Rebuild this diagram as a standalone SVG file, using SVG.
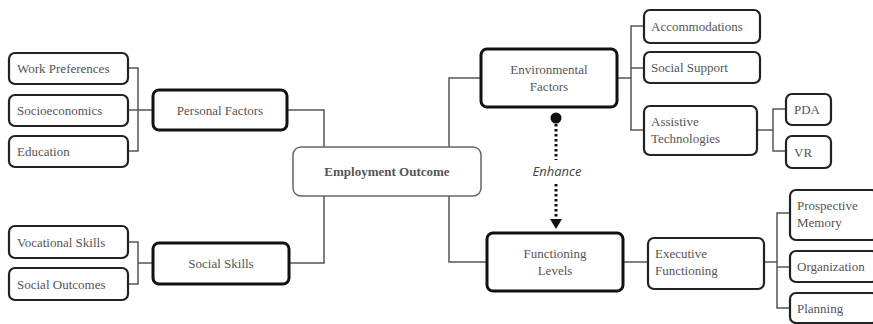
<svg xmlns="http://www.w3.org/2000/svg" width="873" height="324" viewBox="0 0 873 324">
<style>
.leaf{fill:#fff;stroke:#222;stroke-width:2.2}
.hub{fill:#fff;stroke:#111;stroke-width:3}
.root{fill:#fff;stroke:#666;stroke-width:1.5}
.t{font-family:"Liberation Serif",serif;font-size:13px;fill:#555}
.c{text-anchor:middle}
.conn{fill:none;stroke:#555;stroke-width:1.5}
</style>
<defs>
<marker id="arr" viewBox="0 0 10 10" refX="5" refY="9" markerWidth="10" markerHeight="10" markerUnits="userSpaceOnUse" orient="auto-start-reverse">
<path d="M0,0 L10,0 L5,10 Z" fill="#111" transform="rotate(-90 5 5)"/>
</marker>
</defs>
<g id="connectors">
<path class="conn" d="M128,68 H138 V151 H128 M128,110 H153"/>
<path class="conn" d="M287,110 H324 V147"/>
<path class="conn" d="M128,242 H138 V284 H128 M138,263 H153"/>
<path class="conn" d="M289,263 H324 V196"/>
<path class="conn" d="M449,147 V78 H481"/>
<path class="conn" d="M449,196 V262 H487"/>
<path class="conn" d="M617,78 H631 M644,26 H631 V130 H644 M631,68 H644"/>
<path class="conn" d="M757,130 H773 M786,109 H773 V151 H786"/>
<path class="conn" d="M623,262 H648"/>
<path class="conn" d="M764,262 H777 M790,213 H777 V308 H790 M777,267 H790"/>
<g id="enhance">
<circle cx="556" cy="118" r="5.5" fill="#111"/>
<line x1="556" y1="124" x2="556" y2="160" stroke="#111" stroke-width="3" stroke-dasharray="2.5,2.5"/>
<line x1="556" y1="184" x2="556" y2="220" stroke="#111" stroke-width="3" stroke-dasharray="2.5,2.5"/>
<path d="M550,219 L562,219 L556,229 Z" fill="#111"/>
<text x="557" y="176" text-anchor="middle" font-family="'Open Sans',sans-serif" font-style="italic" font-size="13" fill="#444">Enhance</text>
</g>
</g>
<g id="work-preferences"><rect class="leaf" x="9" y="53" width="119" height="31" rx="6"/><text class="t" x="17" y="73">Work Preferences</text></g>
<g id="socioeconomics"><rect class="leaf" x="9" y="95" width="119" height="31" rx="6"/><text class="t" x="17" y="115">Socioeconomics</text></g>
<g id="education"><rect class="leaf" x="9" y="136" width="119" height="31" rx="6"/><text class="t" x="17" y="156">Education</text></g>
<g id="personal-factors"><rect class="hub" x="153" y="90" width="134" height="40" rx="6"/><text class="t c" x="220" y="115">Personal Factors</text></g>
<g id="vocational-skills"><rect class="leaf" x="9" y="226" width="119" height="32" rx="6"/><text class="t" x="17" y="247">Vocational Skills</text></g>
<g id="social-outcomes"><rect class="leaf" x="9" y="268" width="119" height="32" rx="6"/><text class="t" x="17" y="289">Social Outcomes</text></g>
<g id="social-skills"><rect class="hub" x="153" y="243" width="136" height="41" rx="6"/><text class="t c" x="221" y="268">Social Skills</text></g>
<g id="employment-outcome"><rect class="root" x="293" y="147" width="188" height="49" rx="8"/><text class="t c" x="387" y="176" font-weight="bold" fill="#222">Employment Outcome</text></g>
<g id="environmental-factors"><rect class="hub" x="481" y="49" width="136" height="58" rx="6"/><text class="t c" x="549" y="74">Environmental</text><text class="t c" x="549" y="91">Factors</text></g>
<g id="accommodations"><rect class="leaf" x="644" y="10" width="116" height="33" rx="6"/><text class="t" x="651" y="31">Accommodations</text></g>
<g id="social-support"><rect class="leaf" x="644" y="52" width="116" height="31" rx="6"/><text class="t" x="651" y="72">Social Support</text></g>
<g id="assistive-technologies"><rect class="leaf" x="644" y="106" width="113" height="49" rx="6"/><text class="t" x="651" y="126">Assistive</text><text class="t" x="651" y="143">Technologies</text></g>
<g id="pda"><rect class="leaf" x="786" y="94" width="45" height="31" rx="6"/><text class="t" x="794" y="114">PDA</text></g>
<g id="vr"><rect class="leaf" x="786" y="136" width="45" height="32" rx="6"/><text class="t" x="794" y="157">VR</text></g>
<g id="functioning-levels"><rect class="hub" x="487" y="233" width="136" height="58" rx="6"/><text class="t c" x="555" y="258">Functioning</text><text class="t c" x="555" y="275">Levels</text></g>
<g id="executive-functioning"><rect class="leaf" x="648" y="238" width="116" height="51" rx="6"/><text class="t" x="655" y="258">Executive</text><text class="t" x="655" y="275">Functioning</text></g>
<g id="prospective-memory"><rect class="leaf" x="790" y="190" width="88" height="50" rx="6"/><text class="t" x="797" y="210">Prospective</text><text class="t" x="797" y="227">Memory</text></g>
<g id="organization"><rect class="leaf" x="790" y="251" width="88" height="31" rx="6"/><text class="t" x="797" y="271">Organization</text></g>
<g id="planning"><rect class="leaf" x="790" y="293" width="88" height="30" rx="6"/><text class="t" x="797" y="313">Planning</text></g>
</svg>
